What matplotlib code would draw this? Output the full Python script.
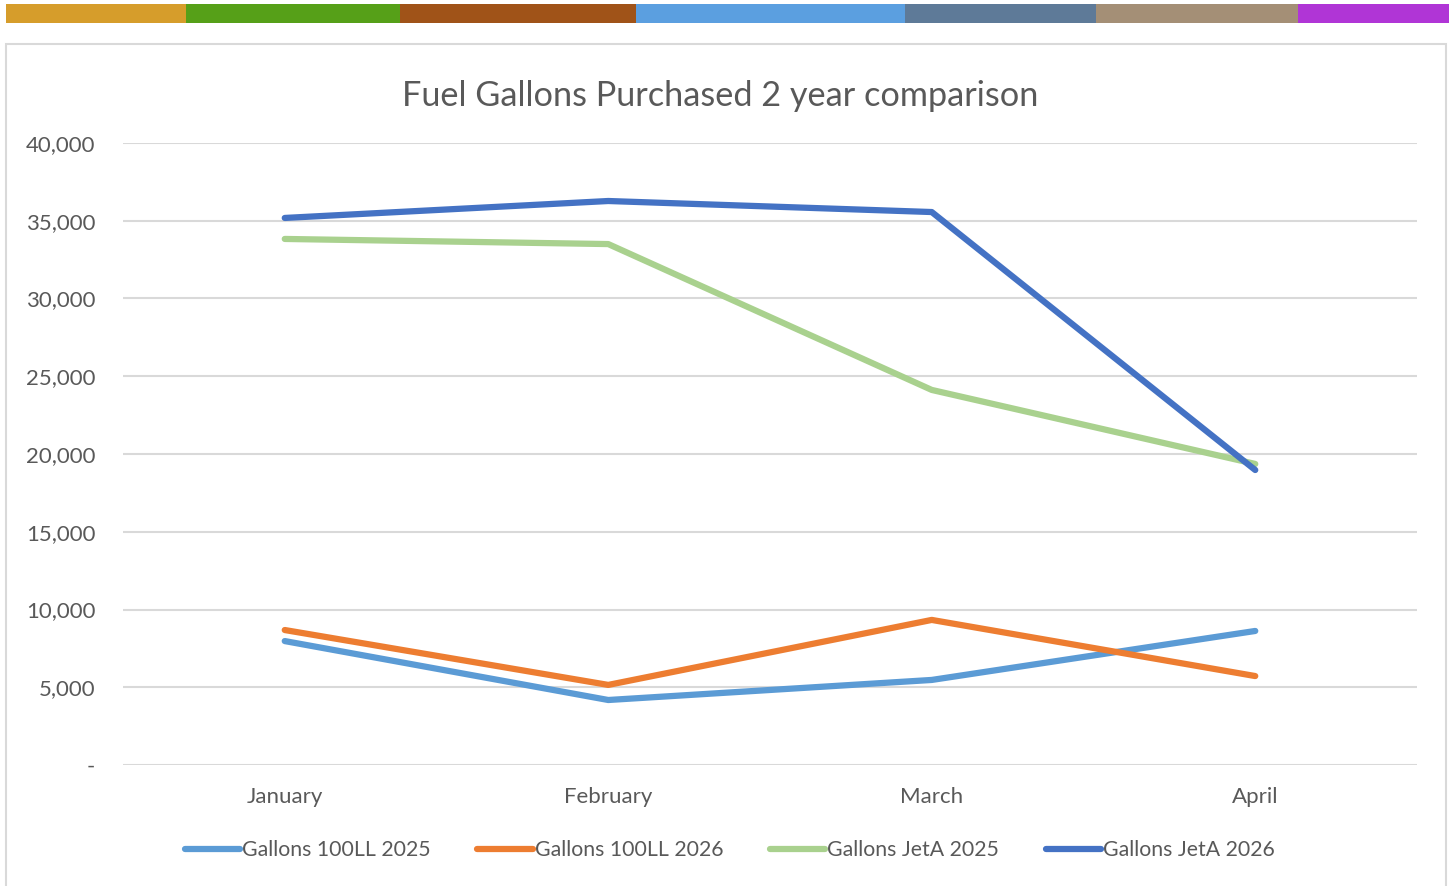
import matplotlib.pyplot as plt
from matplotlib.patches import Rectangle
from matplotlib.ticker import FuncFormatter

plt.rcParams['font.family'] = ['Lato', 'DejaVu Sans']

months = ["January", "February", "March", "April"]
ll_2025 = [7970, 4180, 5470, 8620]
ll_2026 = [8680, 5150, 9330, 5720]
jeta_2025 = [33830, 33500, 24120, 19360]
jeta_2026 = [35180, 36270, 35560, 18970]

series = [
    ("Gallons 100LL 2025", ll_2025, "#5B9BD5"),
    ("Gallons 100LL 2026", ll_2026, "#ED7D31"),
    ("Gallons JetA 2025", jeta_2025, "#A9D18E"),
    ("Gallons JetA 2026", jeta_2026, "#4472C4"),
]

# decorative strip across the top
strip_edges = [6, 186, 400, 636, 905, 1096, 1298, 1449]
strip_colors = ["#D69D2B", "#56A018", "#A05318", "#5B9FE0",
                "#5E7A98", "#A48F76", "#B035D6"]

W, H = 1449, 886
fig = plt.figure(figsize=(W / 100, H / 100), dpi=100)

for i, c in enumerate(strip_colors):
    fig.patches.append(Rectangle((strip_edges[i] / W, 1 - 23 / H),
                                 (strip_edges[i + 1] - strip_edges[i]) / W, 19 / H,
                                 transform=fig.transFigure, color=c, lw=0))

# chart border
fig.patches.append(Rectangle((6 / W, -0.01), 1440 / W, 1 - 44 / H + 0.01,
                             transform=fig.transFigure, fill=False,
                             edgecolor="#D9D9D9", lw=1.5))

ax = fig.add_axes([123 / W, 1 - 765 / H, (1417 - 123) / W, (765 - 143) / H])
x = range(len(months))
for label, vals, color in series:
    ax.plot(x, vals, color=color, lw=4.5, solid_capstyle="round", label=label)

ax.set_xlim(-0.5, 3.5)
ax.set_ylim(0, 40000)
ax.set_yticks(range(0, 40001, 5000))
ax.yaxis.set_major_formatter(FuncFormatter(lambda v, p: "-" if v == 0 else f"{int(v):,}"))
ax.set_xticks(list(x))
ax.set_xticklabels(months)
ax.grid(axis="y", color="#D9D9D9", lw=1.5)
ax.set_axisbelow(True)
for s in ax.spines.values():
    s.set_visible(False)
ax.tick_params(length=0, labelsize=16, colors="#595959")
ax.tick_params(axis="x", pad=16)
ax.tick_params(axis="y", pad=20)

fig.text(720 / W, 1 - 96 / H, "Fuel Gallons Purchased 2 year comparison",
         ha="center", va="center", fontsize=24.7, color="#595959")

ax.legend(loc="center", bbox_to_anchor=(0.469, (765 - 850) / (765 - 143)),
          ncol=4, frameon=False, fontsize=15.3, labelcolor="#595959",
          handlelength=2.6, handletextpad=0.1, columnspacing=2.2)

fig.savefig("out.png", dpi=100)
